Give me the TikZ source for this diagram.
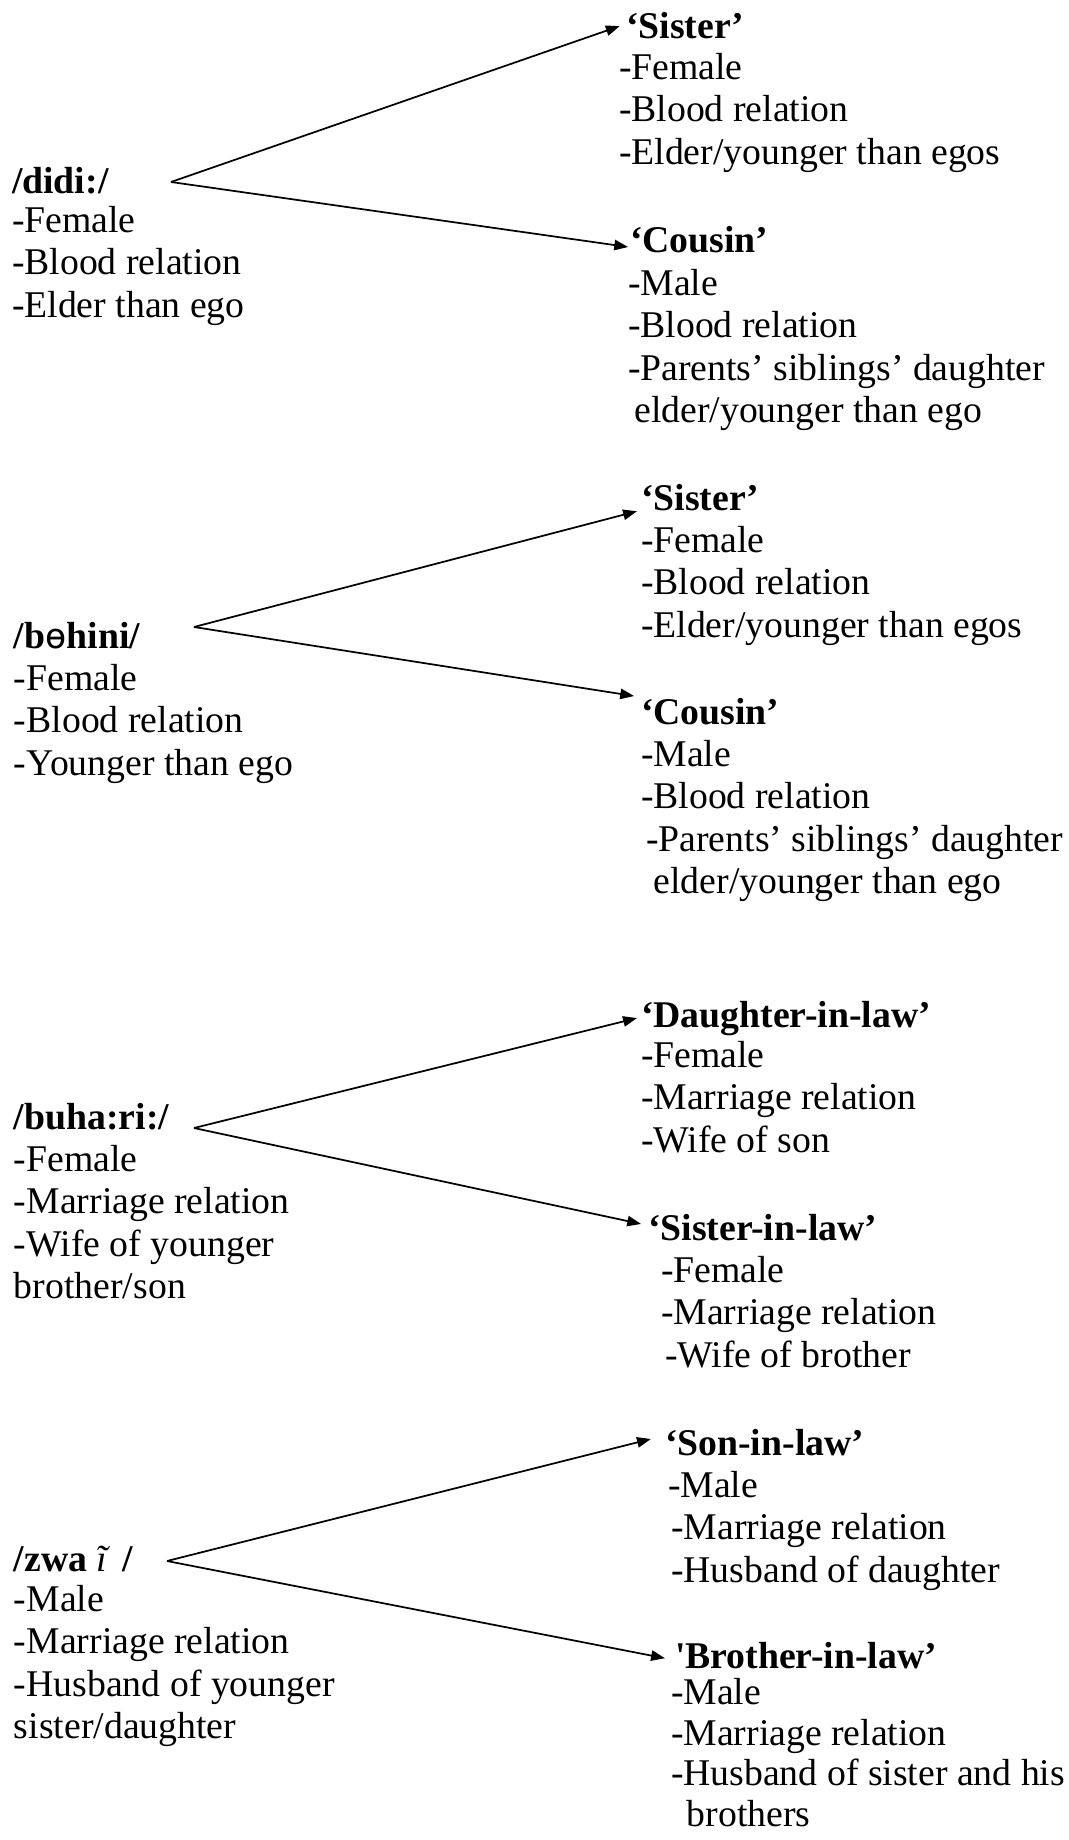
\documentclass[tikz,border=0pt]{standalone}
\usepackage{fontspec}
\setmainfont{Liberation Serif}
\newfontfamily\ipafont{DejaVu Sans}
\usetikzlibrary{arrows.meta}
\tikzset{
    x=0.318pt, y=-0.318pt, % one unit is one pixel, y grows downward
    >={Triangle[length=4.4pt, width=3.3pt]}, % filled arrow heads
    every node/.style={inner sep=0pt, outer sep=0pt, anchor=base west, font=\fontsize{12pt}{13.5pt}\selectfont},
    head/.style={font=\fontsize{12pt}{13.5pt}\selectfont\bfseries}, % the kin term on the left
    gloss/.style={font=\fontsize{12pt}{13.5pt}\selectfont\bfseries}, % English meaning
    attr/.style={align=left, anchor=north west}, % list of features, placed by its top
    link/.style={->, line width=0.55pt},
}

\begin{document}
\begin{tikzpicture}
    \useasboundingbox (0,0) rectangle (1069,1840);

    % /didi:/
    \node[head] (didi) at (12,194) {/didi:/};
    \node[attr] (didi-attr) at (12,206) {-Female\\-Blood relation\\-Elder than ego};
    \node[gloss] (sis1) at (626,39) {‘Sister’};
    \node[attr] (sis1-attr) at (619,53) {-Female\\-Blood relation\\-Elder/younger than egos};
    \node[gloss] (cou1) at (630,252) {‘Cousin’};
    \node[attr] (cou1-attr) at (628,269) {-Male\\-Blood relation\\-Parents’ siblings’ daughter\\\hspace*{2pt}elder/younger than ego};
    \coordinate (didi-fork) at (171,182);
    \draw[link] (didi-fork) -- ([xshift=-2pt]sis1.west);
    \draw[link] (didi-fork) -- ([xshift=-0.6pt, yshift=-2.5pt]cou1.west);

    % /bohini/
    \node[head] (bohini) at (14,648) {/b{\ipafont\mdseries\fontsize{11pt}{11pt}\selectfont ɵ}hini/};
    \node[attr] (bohini-attr) at (14,664) {-Female\\-Blood relation\\-Younger than ego};
    \node[gloss] (sis2) at (641,510) {‘Sister’};
    \node[attr] (sis2-attr) at (641,526) {-Female\\-Blood relation\\-Elder/younger than egos};
    \node[gloss] (cou2) at (641,724) {‘Cousin’};
    \node[attr] (cou2-attr) at (641,740) {-Male\\-Blood relation\\\hspace*{1.6pt}-Parents’ siblings’ daughter\\\hspace*{4pt}elder/younger than ego};
    \coordinate (bohini-fork) at (194,627);
    \draw[link] (bohini-fork) -- ([xshift=-1.3pt, yshift=-4.5pt]sis2.west);
    \draw[link] (bohini-fork) -- ([xshift=-2.2pt, yshift=4.8pt]cou2.west);

    % /buha:ri:/
    \node[head] (buhari) at (14,1129) {/buha:ri:/};
    \node[attr] (buhari-attr) at (14,1145) {-Female\\-Marriage relation\\-Wife of younger\\brother/son};
    \node[gloss] (dil) at (641,1027) {‘Daughter-in-law’};
    \node[attr] (dil-attr) at (641,1041) {-Female\\-Marriage relation\\-Wife of son};
    \node[gloss] (sil) at (648,1240) {‘Sister-in-law’};
    \node[attr] (sil-attr) at (661,1256) {-Female\\-Marriage relation\\\hspace*{1.3pt}-Wife of brother};
    \coordinate (buhari-fork) at (194,1128);
    \draw[link] (buhari-fork) -- ([xshift=-1.3pt]dil.west);
    \draw[link] (buhari-fork) -- ([xshift=-2.2pt, yshift=1pt]sil.west);

    % /zwai/
    \node[head] (zwai) at (14,1571) {/zwa\hspace{3pt}{\mdseries\itshape ĩ}\hspace{5pt}/};
    \node[attr] (zwai-attr) at (14,1585) {-Male\\-Marriage relation\\-Husband of younger\\sister/daughter};
    \node[gloss] (sonil) at (665,1455) {‘Son-in-law’};
    \node[attr] (sonil-attr) at (668,1471) {-Male\\\hspace*{1pt}-Marriage relation\\\hspace*{1pt}-Husband of daughter};
    \node[gloss] (bil) at (675,1668) {\textquotesingle Brother-in-law’};
    \node[attr, font=\fontsize{12pt}{13pt}\selectfont] (bil-attr) at (671,1678) {-Male\\-Marriage relation\\-Husband of sister and his\\\hspace*{5pt}brothers};
    \coordinate (zwai-fork) at (167,1561);
    \draw[link] (zwai-fork) -- ([xshift=-4.5pt, yshift=1pt]sonil.west);
    \draw[link] (zwai-fork) -- ([xshift=-3.2pt, yshift=-1pt]bil.west);
\end{tikzpicture}
\end{document}
